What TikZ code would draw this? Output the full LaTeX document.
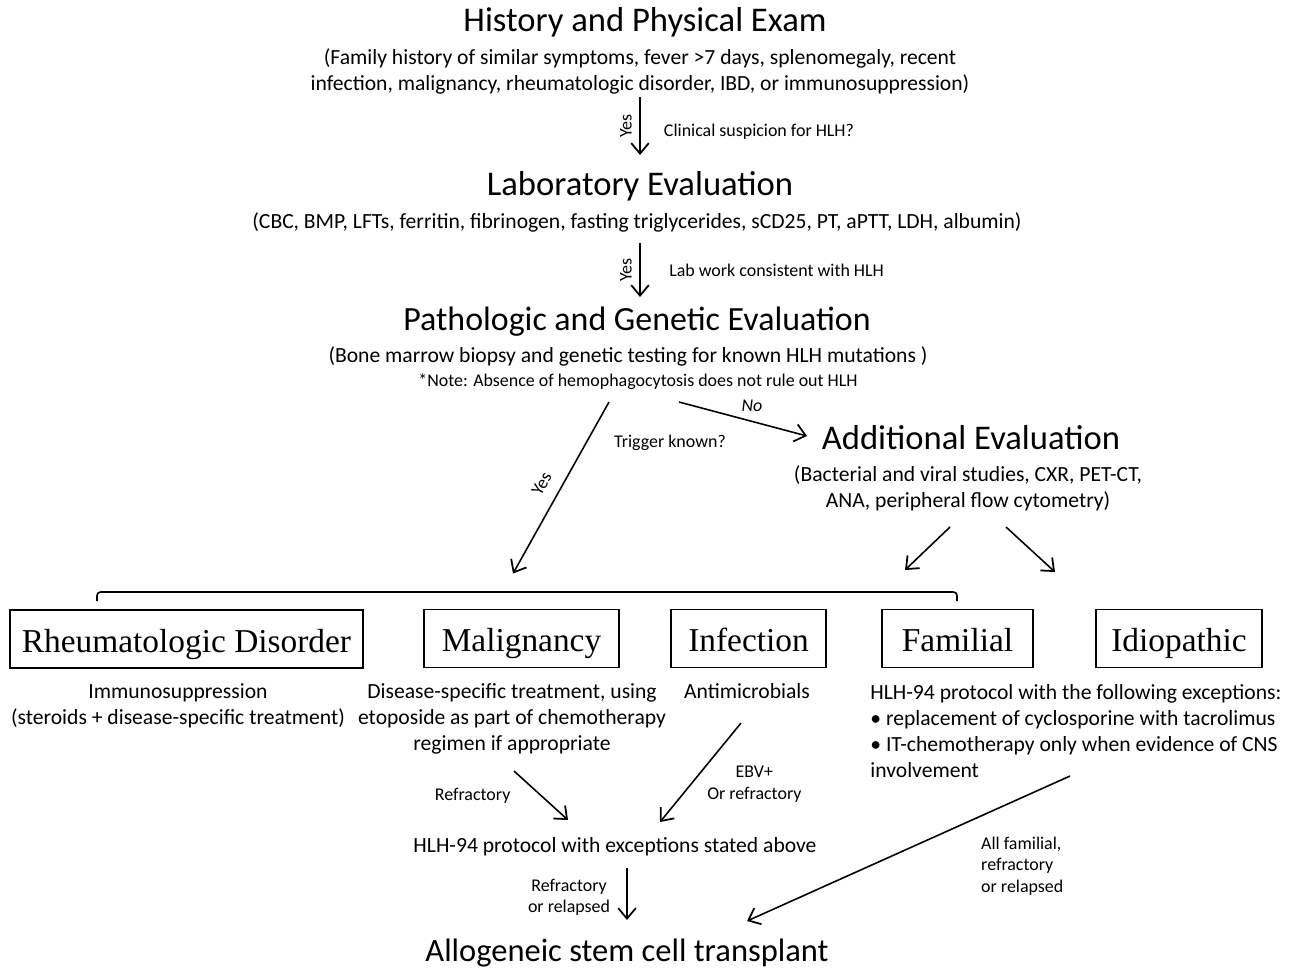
\documentclass[tikz,border=0pt]{standalone}
\usepackage{fontspec}
\setsansfont{Carlito}
\newfontfamily\boxserif{Liberation Serif}
\usetikzlibrary{arrows.meta,positioning,calc}

\tikzset{
  head/.style={font=\sffamily\fontsize{19.7}{23}\selectfont, inner sep=0pt},
  info/.style={font=\sffamily\fontsize{12.3}{14.8}\selectfont, align=center, inner sep=0pt},
  lbl/.style={font=\sffamily\fontsize{10.2}{12.2}\selectfont, align=center, inner sep=1pt},
  cause/.style={draw, line width=0.8pt, font=\boxserif\fontsize{19}{22}\selectfont,
    minimum height=1.16cm, inner sep=2pt, text height=17pt, text depth=1.7pt},
  flow/.style={-{Straight Barb[length=6pt,width=10pt,line width=1pt]}, line width=0.9pt},
  vflow/.style={flow, line width=1.3pt},
  bracket/.style={line width=0.9pt, rounded corners=2pt}
}

\begin{document}
\begin{tikzpicture}[x=0.02cm, y=-0.02cm]
  \useasboundingbox (0,0) rectangle (1293,971);

  % evaluation steps
  \node[head] (hpe) at (645,22) {History and Physical Exam};
  \node[info] (hpeinfo) at (640,71) {(Family history of similar symptoms, fever >7 days, splenomegaly, recent\\infection, malignancy, rheumatologic disorder, IBD, or immunosuppression)};
  \node[head] (lab) at (640,186) {Laboratory Evaluation};
  \node[info] (labinfo) at (637,222) {(CBC, BMP, LFTs, ferritin, fibrinogen, fasting triglycerides, sCD25, PT, aPTT, LDH, albumin)};
  \node[head, font=\sffamily\fontsize{19.3}{23}\selectfont] (path) at (637,322) {Pathologic and Genetic Evaluation};
  \node[info] (pathinfo) at (628,356) {(Bone marrow biopsy and genetic testing for known HLH mutations )};
  \node[lbl] (note) at (638,382) {*Note: Absence of hemophagocytosis does not rule out HLH};
  \node[head] (addl) at (971,438) {Additional Evaluation};
  \node[info] (addlinfo) at (968,488) {(Bacterial and viral studies, CXR, PET-CT,\\ANA, peripheral flow cytometry)};
  \node[lbl] (trig) at (670,443) {Trigger known?};

  % causes
  \node[cause, minimum width=7.06cm] (rheum) at (186.5,639) {Rheumatologic Disorder};
  \node[cause, minimum width=3.9cm] (malig) at (521.5,638.5) {Malignancy};
  \node[cause, minimum width=3.1cm] (infec) at (748.5,638.5) {Infection};
  \node[cause, minimum width=3.02cm] (famil) at (957.5,638.5) {Familial};
  \node[cause, minimum width=3.32cm] (idio) at (1179,638.5) {Idiopathic};

  \coordinate (brl) at (97,601);
  \coordinate (brr) at (957,601);
  \draw[bracket] (brl) -- ++(0,-9) -| (brr);

  % treatment
  \node[info] (rheumtx) at (178,706) {Immunosuppression\\(steroids + disease-specific treatment)};
  \node[info] (maligtx) at (512,719) {Disease-specific treatment, using\\etoposide as part of chemotherapy\\regimen if appropriate};
  \node[info] (infectx) at (747,691) {Antimicrobials};
  \node[info, align=left, anchor=west] (familtx) at (870,731) {HLH-94 protocol with the following exceptions:\\\textbullet{} replacement of cyclosporine with tacrolimus\\\textbullet{} IT-chemotherapy only when evidence of CNS\\involvement};
  \node[info] (hlh) at (615,847) {HLH-94 protocol with exceptions stated above};
  \node[head, font=\sffamily\fontsize{18.5}{22}\selectfont] (hsct) at (627,953) {Allogeneic stem cell transplant};

  \draw[vflow] ($(hpeinfo)+(0,26)$) -- ($(lab)+(0,-31)$)
    node[lbl, midway, rotate=90, anchor=south, yshift=3pt] {Yes}
    node[lbl, midway, anchor=west, xshift=12pt, yshift=-3pt] {Clinical suspicion for HLH?};
  \draw[vflow] ($(labinfo)+(3,21)$) -- ($(path)+(3,-25)$)
    node[lbl, midway, rotate=90, anchor=south, yshift=3pt] {Yes}
    node[lbl, midway, anchor=west, xshift=15pt] {Lab work consistent with HLH};
  \draw[flow] ($(note)+(-29,20)$) -- ($(malig)+(-8.5,-65)$)
    node[lbl, pos=0.53, sloped, above=6pt] {Yes};
  \draw[flow] ($(note)+(41,20)$) -- ($(addl)+(-164,-2)$)
    node[lbl, pos=0.57, above=4pt, font=\sffamily\itshape\fontsize{10.2}{12}\selectfont] {No};
  \draw[flow] ($(addlinfo)+(-18,39)$) -- ($(famil)+(-52.5,-68.5)$);
  \draw[flow] ($(addlinfo)+(38,39)$) -- ($(idio)+(-124,-66.5)$);

  \draw[flow] ($(maligtx)+(2,52)$) -- ($(hlh)+(-47,-27)$)
    node[lbl, midway, anchor=east, xshift=-16pt] {Refractory};
  \draw[flow] ($(infectx)+(-6,32)$) -- ($(hlh)+(45,-25)$)
    node[lbl, pos=0.6, anchor=west, xshift=7pt, yshift=-1pt] {EBV+\\Or refractory};
  \draw[vflow] ($(hlh)+(12,21)$) -- ($(hsct)+(0,-33)$)
    node[lbl, midway, anchor=east, xshift=-8pt, yshift=-2pt] {Refractory\\or relapsed};
  \draw[flow] ($(familtx.west)+(200,45)$) -- ($(hsct)+(120,-32)$)
    node[lbl, align=left, pos=0.62, anchor=west, xshift=62pt] {All familial,\\refractory\\or relapsed};
\end{tikzpicture}
\end{document}
